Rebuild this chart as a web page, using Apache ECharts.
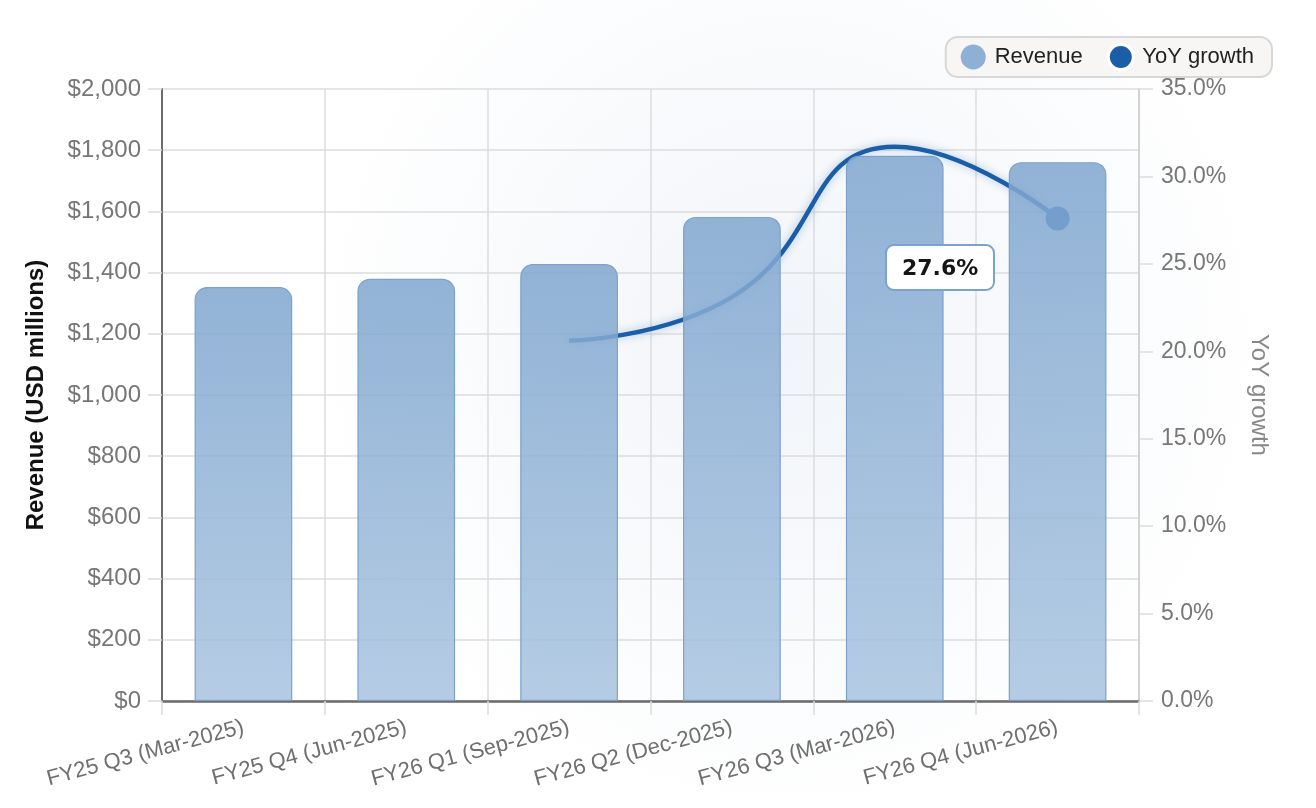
<!DOCTYPE html>
<html>
<head>
<meta charset="utf-8">
<title>Revenue and YoY growth</title>
<script src="https://cdn.jsdelivr.net/npm/echarts@6/dist/echarts.min.js"></script>
<style>
  html, body { margin: 0; padding: 0; background: #fff; }
  #chart { width: 1316px; height: 808px; }
</style>
</head>
<body>
<div id="chart"></div>
<script>
// data
var quarters = ['FY25 Q3 (Mar-2025)', 'FY25 Q4 (Jun-2025)', 'FY26 Q1 (Sep-2025)',
                'FY26 Q2 (Dec-2025)', 'FY26 Q3 (Mar-2026)', 'FY26 Q4 (Jun-2026)'];
var revenue = [1353, 1380, 1428, 1582, 1782, 1761];
var yoyGrowth = [null, null, 20.6, 23.1, 31.7, 27.6];
var hoverIndex = 5; // point shown with tooltip

var chart = echarts.init(document.getElementById('chart'));

var option = {
  backgroundColor: {
    type: 'radial', x: 0.6, y: 0.42, r: 0.6,
    colorStops: [
      { offset: 0, color: '#f1f4f9' },
      { offset: 1, color: '#ffffff' }
    ]
  },
  textStyle: { fontFamily: 'Liberation Sans' },
  grid: { left: 162, right: 177, top: 89, bottom: 107 },
  legend: {
    data: [
      { name: 'Revenue', itemStyle: { color: '#8eb0d5', borderWidth: 0 } },
      { name: 'YoY growth', itemStyle: { color: '#1a5ea8', borderColor: '#ffffff', borderWidth: 3 } }
    ],
    right: 44, top: 37,
    icon: 'circle',
    itemWidth: 25, itemHeight: 25, itemGap: 24,
    padding: [6, 18, 6, 15],
    backgroundColor: '#f7f6f4',
    borderColor: '#d8d8d8', borderWidth: 2, borderRadius: 12,
    textStyle: { fontSize: 22, color: '#222', padding: [0, 0, 0, 4] }
  },
  tooltip: {
    trigger: 'item',
    alwaysShowContent: true,
    transitionDuration: 0,
    backgroundColor: '#ffffff',
    borderColor: '#7aa3cf', borderWidth: 2,
    padding: [6, 15],
    extraCssText: 'border-radius:9px;box-shadow:none;line-height:31px;',
    textStyle: { fontFamily: 'DejaVu Sans', fontWeight: 'bold', fontSize: 22, color: '#151515' },
    position: function () { return [885, 244]; },
    formatter: function (p) { return p.value.toFixed(1) + '%'; }
  },
  xAxis: {
    type: 'category',
    data: quarters,
    boundaryGap: true,
    axisLine: { lineStyle: { color: '#6b6b6b', width: 2.5 } },
    axisTick: { show: true, length: 14, lineStyle: { color: '#dcdcdc', width: 1.5 } },
    splitLine: { show: true, lineStyle: { color: '#dddddd', width: 1.5 } },
    axisLabel: { rotate: 15, interval: 0, fontSize: 22, color: '#6f6f6f', margin: 26 }
  },
  yAxis: [{
    type: 'value',
    min: 0, max: 2000, interval: 200,
    name: 'Revenue (USD millions)',
    nameLocation: 'middle', nameGap: 114, nameRotate: 90,
    nameTextStyle: { fontSize: 24, fontWeight: 'bold', color: '#111' },
    axisLine: { show: true, lineStyle: { color: '#6b6b6b', width: 2 } },
    axisTick: { show: true, length: 14, lineStyle: { color: '#dcdcdc', width: 1.5 } },
    splitLine: { show: true, lineStyle: { color: '#dddddd', width: 1.5 } },
    axisLabel: {
      fontSize: 24, color: '#777', margin: 21,
      formatter: function (v) { return '$' + v.toLocaleString('en-US'); }
    }
  }, {
    type: 'value',
    min: 0, max: 35, interval: 5,
    name: 'YoY growth',
    nameLocation: 'middle', nameGap: 108, nameRotate: -90,
    nameTextStyle: { fontSize: 24, color: '#888' },
    axisLine: { show: true, lineStyle: { color: '#cccccc', width: 1.5 } },
    axisTick: { show: true, length: 14, lineStyle: { color: '#dcdcdc', width: 1.5 } },
    splitLine: { show: false },
    axisLabel: {
      fontSize: 23, color: '#777', margin: 22,
      formatter: function (v) { return v.toFixed(1) + '%'; }
    }
  }],
  series: [{
    // line sits under the translucent bars
    name: 'YoY growth',
    type: 'line',
    yAxisIndex: 1,
    z: 1,
    data: yoyGrowth,
    smooth: true,
    connectNulls: false,
    symbol: 'circle',
    symbolSize: function (v, p) { return p.dataIndex === hoverIndex ? 24 : 0; },
    color: '#1a5ea8',
    lineStyle: { color: '#1a5ea8', width: 4.5, shadowBlur: 8, shadowColor: 'rgba(26,94,168,0.35)' },
    itemStyle: { color: '#1a5ea8', borderWidth: 0 },
    emphasis: { disabled: true }
  }, {
    name: 'Revenue',
    type: 'bar',
    z: 3,
    data: revenue,
    barWidth: '60%',
    color: '#8eb0d5',
    itemStyle: {
      color: {
        type: 'linear', x: 0, y: 0, x2: 0, y2: 1,
        colorStops: [
          { offset: 0, color: 'rgba(127,166,207,0.85)' },
          { offset: 1, color: 'rgba(168,195,223,0.85)' }
        ]
      },
      borderColor: '#7ba2cd', borderWidth: 1.2,
      borderRadius: [12, 12, 0, 0]
    },
    tooltip: { show: false },
    emphasis: { disabled: true }
  }]
};

chart.setOption(option);
chart.dispatchAction({ type: 'showTip', seriesIndex: 0, dataIndex: hoverIndex });
</script>
</body>
</html>
